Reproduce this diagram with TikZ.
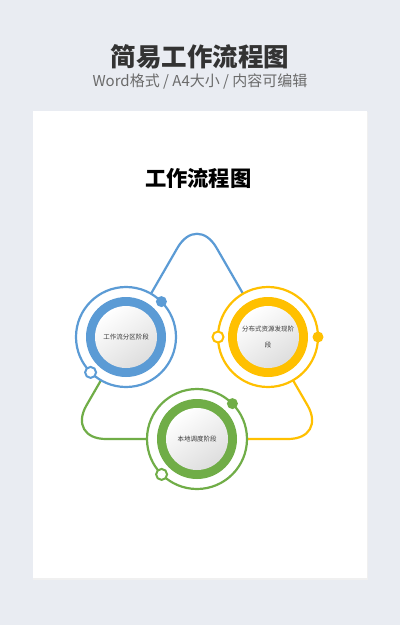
\documentclass[tikz,border=0pt]{standalone}
\usepackage{fontspec}
\newfontfamily\cjk{Noto Sans CJK SC}
\usetikzlibrary{shadows}
\definecolor{bgc}{HTML}{E9ECF2}
\definecolor{cblue}{HTML}{5B9BD5}
\definecolor{cyellow}{HTML}{FFC000}
\definecolor{cgreen}{HTML}{70AD47}
\definecolor{ctitle}{HTML}{333333}
\definecolor{csub}{HTML}{6B6B6B}
\definecolor{ctext}{HTML}{3A3A3A}
\tikzset{
  outerring/.style={circle, draw=#1, line width=2.2pt, fill=white, minimum size=100pt, inner sep=0pt},
  thickring/.style={circle, fill=#1, minimum size=80pt, inner sep=0pt},
  innerdisc/.style={circle, minimum size=62pt, inner sep=0pt, top color=white, bottom color=black!13, shading angle=35,
    font=\cjk\fontsize{6.5}{16.7}\selectfont, text=ctext, align=center},
  filldot/.style={circle, fill=#1, minimum size=11pt, inner sep=0pt},
  hollowdot/.style={circle, draw=#1, line width=2pt, fill=white, minimum size=11pt, inner sep=0pt},
  conn/.style={draw=#1, line width=2.2pt, rounded corners=39pt},
}
\begin{document}
\begin{tikzpicture}[x=1pt,y=-1pt]
\useasboundingbox (0,0) rectangle (400,625);
\fill[bgc] (0,0) rectangle (400,625);
% page with faint shadow
\fill[black!6] (33,111.5) rectangle (367.5,579.5);
\fill[white] (32.7,110.7) rectangle (366.7,578.3);
% headings
\node[font=\cjk\bfseries\fontsize{25.5}{26}\selectfont, text=ctitle] (title) at (200,56.5) {简易工作流程图};
\node[font=\cjk\fontsize{15}{15}\selectfont, text=csub] (subtitle) at (200,81) {Word格式 / A4大小 / 内容可编辑};
\node[font=\cjk\bfseries\fontsize{21.3}{22}\selectfont, text=black] (ptitle) at (198.3,178.3) {工作流程图};
% corner coordinates
\coordinate (apex) at (197,214);
\coordinate (bl) at (67,439);
\coordinate (br) at (327,439);
\coordinate (cb) at (126,337);
\coordinate (cy) at (268,337);
\coordinate (cg) at (197,439);
% connectors
\draw[conn=cblue] (cb) -- (apex) -- (cy);
\draw[conn=cyellow] (cy) -- (br) -- (cg);
\draw[conn=cgreen] (cg) -- (bl) -- (cb);
% blue stage
\node[outerring=cblue] (blue) at (cb) {};
\node[thickring=cblue] (bluering) at (cb) {};
\node[innerdisc] (bluetext) at (cb) {工作流分区阶段};
\node[filldot=cblue] (bluedot) at (161.4,301.6) {};
\node[hollowdot=cblue] (bluehole) at (90.6,372.4) {};
% yellow stage
\node[outerring=cyellow] (yellow) at (cy) {};
\node[thickring=cyellow] (yellowring) at (cy) {};
\node[innerdisc] (yellowtext) at (cy) {分布式资源发现阶\\段};
\node[filldot=cyellow] (yellowdot) at (318,337) {};
\node[hollowdot=cyellow] (yellowhole) at (218,337) {};
% green stage
\node[outerring=cgreen] (green) at (cg) {};
\node[thickring=cgreen] (greenring) at (cg) {};
\node[innerdisc] (greentext) at (cg) {本地调度阶段};
\node[filldot=cgreen] (greendot) at (232.4,403.6) {};
\node[hollowdot=cgreen] (greenhole) at (161.6,474.4) {};
\end{tikzpicture}
\end{document}
